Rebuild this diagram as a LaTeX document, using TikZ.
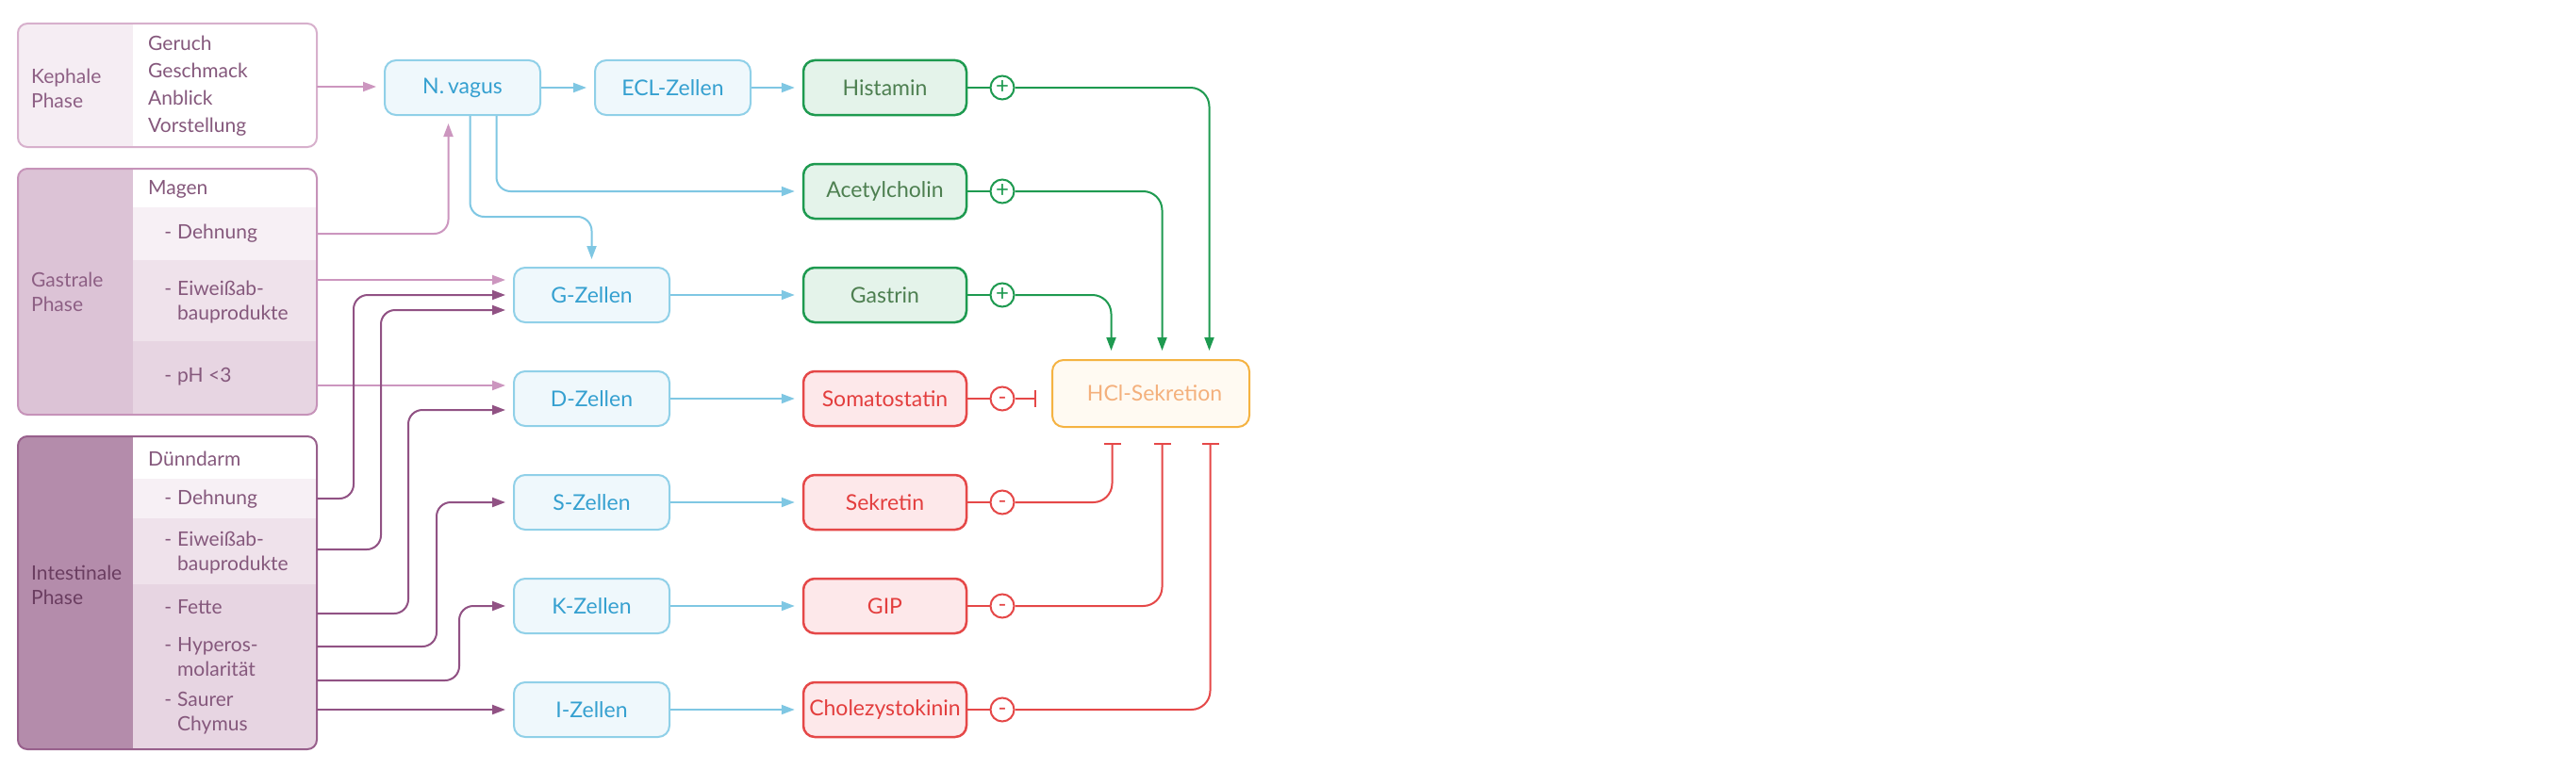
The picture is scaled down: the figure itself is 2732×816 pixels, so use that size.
\documentclass[tikz,border=0pt]{standalone}
\usepackage{fontspec}
\setmainfont{Lato}
\usetikzlibrary{arrows.meta,calc}
\definecolor{kbg}{HTML}{F5EDF3}
\definecolor{gbg}{HTML}{DCC3D6}
\definecolor{ibg}{HTML}{B48CAB}
\definecolor{rowA}{HTML}{F7F0F5}
\definecolor{rowB}{HTML}{EFE2EB}
\definecolor{rowC}{HTML}{E7D5E2}
\definecolor{kbd}{HTML}{D7B0CC}
\definecolor{gbd}{HTML}{C693B9}
\definecolor{ibd}{HTML}{98608C}
\definecolor{ptxt}{HTML}{85587C}
\definecolor{kptxt}{HTML}{8D5F84}
\definecolor{iptxt}{HTML}{6A3D60}
\definecolor{plight}{HTML}{CC96BF}
\definecolor{pdark}{HTML}{915284}
\definecolor{bline}{HTML}{7FC7E3}
\definecolor{bbd}{HTML}{90D0E8}
\definecolor{bfill}{HTML}{EFF8FC}
\definecolor{btxt}{HTML}{35A0D0}
\definecolor{gbdr}{HTML}{1E9A50}
\definecolor{gfill}{HTML}{E4F3EA}
\definecolor{gtxt}{HTML}{4D7F50}
\definecolor{rbdr}{HTML}{E54848}
\definecolor{rfill}{HTML}{FDE8EA}
\definecolor{rtxt}{HTML}{E33E3E}
\definecolor{obdr}{HTML}{F5B342}
\definecolor{ofill}{HTML}{FFFAF2}
\definecolor{otxt}{HTML}{F4B07C}
\begin{document}
\begin{tikzpicture}[x=1pt,y=-1pt,
  every node/.style={font=\fontsize{23}{26}\selectfont},
  txt/.style={anchor=west,inner sep=0pt,align=left,text=ptxt,font=\fontsize{21}{26}\selectfont},
  cellbox/.style={draw=bbd,fill=bfill,text=btxt,line width=2pt,rounded corners=12pt,minimum width=165pt,minimum height=58pt,inner sep=0pt},
  gbox/.style={draw=gbdr,fill=gfill,text=gtxt,line width=2.5pt,rounded corners=12pt,minimum width=173pt,minimum height=58pt,inner sep=0pt},
  rbox/.style={draw=rbdr,fill=rfill,text=rtxt,line width=2.5pt,rounded corners=12pt,minimum width=173pt,minimum height=58pt,inner sep=0pt},
  sign/.style={circle,draw,fill=white,line width=2pt,minimum size=25pt,inner sep=0pt,font=\fontsize{24}{24}\selectfont},
  minus/.style={sign,text height=0pt,text depth=0pt},
  tip/.style={-{Triangle[length=14pt,width=10pt]}},
  parrL/.style={tip,draw=plight,line width=2pt,shorten >=8pt,rounded corners=15pt},
  parrD/.style={tip,draw=pdark,line width=2pt,shorten >=8pt,rounded corners=15pt},
  barr/.style={tip,draw=bline,line width=2pt,shorten >=8pt,rounded corners=15pt},
  garr/.style={tip,draw=gbdr,line width=2pt,shorten >=9pt,rounded corners=20pt},
  rinh/.style={-{Bar[width=18pt]},draw=rbdr,line width=2pt,shorten >=16pt,rounded corners=20pt},
  gline/.style={draw=gbdr,line width=2pt},
  rline/.style={draw=rbdr,line width=2pt}
]
\useasboundingbox (0,0) rectangle (2732,816);
\fill[white] (0,0) rectangle (2732,816);

% ---------- Kephale box
\begin{scope}
\clip[rounded corners=10pt] (19,25) rectangle (336,156);
\fill[kbg] (19,25) rectangle (141,156);
\fill[white] (141,25) rectangle (336,156);
\end{scope}
\draw[kbd,line width=2pt,rounded corners=10pt] (19,25) rectangle (336,156);
\node[txt,text=kptxt] (kph) at (33,94) {Kephale\\Phase};
\node[txt,font=\fontsize{21}{29}\selectfont] (kit) at (157,91) {Geruch\\Geschmack\\Anblick\\Vorstellung};

% ---------- Gastrale box
\begin{scope}
\clip[rounded corners=10pt] (19,179) rectangle (336,440);
\fill[gbg] (19,179) rectangle (141,440);
\fill[white] (141,179) rectangle (336,220);
\fill[rowA] (141,220) rectangle (336,276);
\fill[rowB] (141,276) rectangle (336,362);
\fill[rowC] (141,362) rectangle (336,440);
\end{scope}
\draw[gbd,line width=2pt,rounded corners=10pt] (19,179) rectangle (336,440);
\node[txt,text=kptxt] (gph) at (33,310) {Gastrale\\Phase};
\node[txt] (gmag) at (157,201) {Magen};
\node[txt] (gdt) at (188,248) {\llap{-\hspace{6pt}}Dehnung};
\node[txt] (get) at (188,321) {\llap{-\hspace{6pt}}Eiweißab-\\bauprodukte};
\node[txt] (gpt) at (188,400) {\llap{-\hspace{6pt}}pH <3};

% ---------- Intestinale box
\begin{scope}
\clip[rounded corners=10pt] (19,463) rectangle (336,795);
\fill[ibg] (19,463) rectangle (141,795);
\fill[white] (141,463) rectangle (336,508);
\fill[rowA] (141,508) rectangle (336,550);
\fill[rowB] (141,550) rectangle (336,620);
\fill[rowC] (141,620) rectangle (336,795);
\end{scope}
\draw[ibd,line width=2pt,rounded corners=10pt] (19,463) rectangle (336,795);
\node[txt,text=iptxt] (iph) at (33,621) {Intestinale\\Phase};
\node[txt] (idu) at (157,487) {Dünndarm};
\node[txt] (idt) at (188,530) {\llap{-\hspace{6pt}}Dehnung};
\node[txt] (iet) at (188,587) {\llap{-\hspace{6pt}}Eiweißab-\\bauprodukte};
\node[txt] (ift) at (188,644) {\llap{-\hspace{6pt}}Fette};
\node[txt] (iht) at (188,697) {\llap{-\hspace{6pt}}Hyperos-\\molarität};
\node[txt] (ist) at (188,757) {\llap{-\hspace{6pt}}Saurer\\Chymus};

% connector start points on the box edges
\coordinate (kep) at (336,92);
\coordinate (gDeh) at (336,248);
\coordinate (gEiw) at (336,297);
\coordinate (gPH) at (336,409);
\coordinate (iDeh) at (336,529);
\coordinate (iEiw) at (336,583);
\coordinate (iFet) at (336,651);
\coordinate (iHyp) at (336,686);
\coordinate (iHypB) at (336,722);
\coordinate (iSau) at (336,753);

% ---------- cell nodes
\node[cellbox] (nv) at (490.5,93) {N.\,vagus};
\node[cellbox] (ecl) at (713.5,93) {ECL-Zellen};
\node[cellbox] (G) at (627.5,313) {G-Zellen};
\node[cellbox] (D) at (627.5,423) {D-Zellen};
\node[cellbox] (S) at (627.5,533) {S-Zellen};
\node[cellbox] (K) at (627.5,643) {K-Zellen};
\node[cellbox] (I) at (627.5,753) {I-Zellen};

% ---------- hormone nodes
\node[gbox] (his) at (938.5,93) {Histamin};
\node[gbox] (ach) at (938.5,203) {Acetylcholin};
\node[gbox] (gas) at (938.5,313) {Gastrin};
\node[rbox] (som) at (938.5,423) {Somatostatin};
\node[rbox] (sek) at (938.5,533) {Sekretin};
\node[rbox] (gip) at (938.5,643) {GIP};
\node[rbox] (cck) at (938.5,753) {Cholezystokinin};

\node[draw=obdr,fill=ofill,text=otxt,line width=2pt,rounded corners=12pt,minimum width=209pt,minimum height=71pt,inner sep=0pt] (hcl) at (1220.5,417.5) {\hspace{8pt}HCl-Sekretion};

% ---------- sign circles
\node[sign,draw=gbdr,text=gbdr] (c1) at (1063,93) {+};
\node[sign,draw=gbdr,text=gbdr] (c2) at (1063,203) {+};
\node[sign,draw=gbdr,text=gbdr] (c3) at (1063,313) {+};
\node[minus,draw=rbdr,text=rbdr] (c4) at (1063,423) {\raisebox{-6pt}{-}};
\node[minus,draw=rbdr,text=rbdr] (c5) at (1063,533) {\raisebox{-6pt}{-}};
\node[minus,draw=rbdr,text=rbdr] (c6) at (1063,643) {\raisebox{-6pt}{-}};
\node[minus,draw=rbdr,text=rbdr] (c7) at (1063,753) {\raisebox{-6pt}{-}};

% ---------- purple connectors
\draw[parrL] (kep) -- (kep -| nv.west);
\draw[parrL] (gDeh) -| ([xshift=-15pt]nv.south);
\draw[parrL] (gEiw) -- (gEiw -| G.west);
\draw[parrL] (gPH) -- (gPH -| D.west);
\draw[parrD] (iDeh) -| ([xshift=-169pt]G.west) -- (G.west);
\draw[parrD] (iEiw) -| ([xshift=-140pt,yshift=-16pt]G.west) -- ([yshift=-16pt]G.west);
\draw[parrD] (iFet) -| ([xshift=-111pt,yshift=-12pt]D.west) -- ([yshift=-12pt]D.west);
\draw[parrD] (iHyp) -| ([xshift=-81pt]S.west) -- (S.west);
\draw[parrD] (iHypB) -| ([xshift=-57pt]K.west) -- (K.west);
\draw[parrD] (iSau) -- (I.west);

% ---------- blue connectors
\draw[barr] (nv.east) -- (ecl.west);
\draw[barr] (ecl.east) -- (his.west);
\draw[barr] ([xshift=36pt]nv.south) |- (ach.west);
\draw[barr] ([xshift=8pt]nv.south) |- ([yshift=53pt]G.north) -- (G.north);
\draw[barr] (G.east) -- (gas.west);
\draw[barr] (D.east) -- (som.west);
\draw[barr] (S.east) -- (sek.west);
\draw[barr] (K.east) -- (gip.west);
\draw[barr] (I.east) -- (cck.west);

% ---------- hormone to circle
\draw[gline] (his.east) -- (c1.west);
\draw[gline] (ach.east) -- (c2.west);
\draw[gline] (gas.east) -- (c3.west);
\draw[rline] (som.east) -- (c4.west);
\draw[rline] (sek.east) -- (c5.west);
\draw[rline] (gip.east) -- (c6.west);
\draw[rline] (cck.east) -- (c7.west);

% ---------- effects on HCl
\draw[garr] (c1.east) -| ([xshift=62pt]hcl.north);
\draw[garr] (c2.east) -| ([xshift=12pt]hcl.north);
\draw[garr] (c3.east) -| ([xshift=-42pt]hcl.north);
\draw[rinh] (c4.east) -- (c4 -| hcl.west);
\draw[rinh] (c5.east) -| ([xshift=-41pt]hcl.south);
\draw[rinh] (c6.east) -| ([xshift=12pt]hcl.south);
\draw[rinh] (c7.east) -| ([xshift=63pt]hcl.south);
\end{tikzpicture}
\end{document}
